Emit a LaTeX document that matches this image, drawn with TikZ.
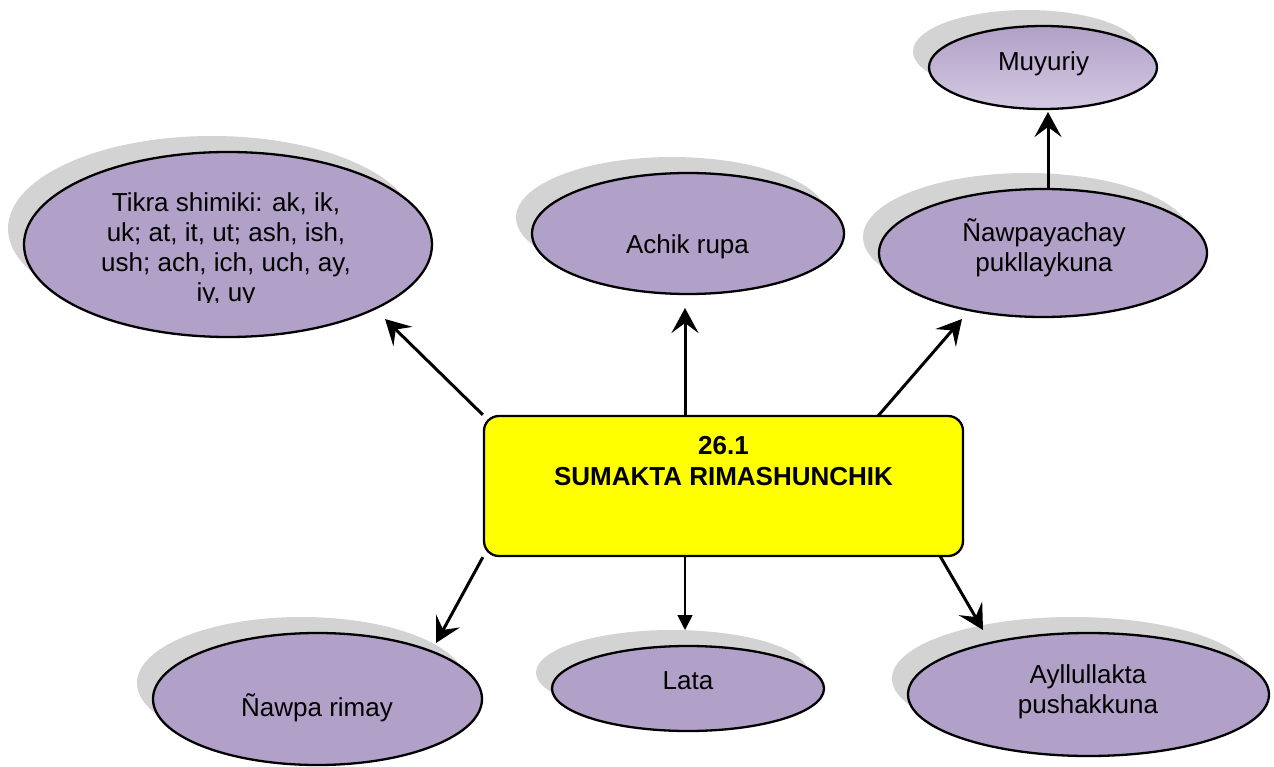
\documentclass[tikz,border=0pt]{standalone}
\usepackage{fontspec}
\setmainfont{Liberation Sans}
\usetikzlibrary{shapes.geometric,shadows,arrows.meta,calc}
\definecolor{purp}{HTML}{B1A0C7}
\definecolor{purplight}{HTML}{D4C9E2}
\definecolor{shadowgray}{HTML}{D3D3D3}
\definecolor{boxyellow}{HTML}{FFFF00}
\begin{document}
\begin{tikzpicture}[x=1pt,y=-1pt,
  bubble/.style={ellipse, draw=black, line width=2.3pt, fill=purp, inner sep=0pt,
    general shadow={fill=shadowgray, draw=none, shadow xshift=-16pt, shadow yshift=16pt}},
  lbl/.style={font=\fontsize{26}{30}\selectfont, align=center, inner sep=0pt},
  arr/.style={line width=3pt, -{Stealth[length=25pt,width=27pt,inset=10pt]}},
  thinarr/.style={line width=1.7pt, -{Triangle[length=15pt,width=15pt]}}]
\useasboundingbox (0,0) rectangle (1274,767);

% bubbles
\node[bubble, minimum width=408pt, minimum height=185pt] (tikra) at (228,244.5) {};
\node[bubble, minimum width=312pt, minimum height=121pt] (achik) at (688,233.5) {};
\node[bubble, minimum width=328pt, minimum height=128pt] (nwy) at (1043,253) {};
\node[bubble, shading=axis, top color=purp, bottom color=purplight, minimum width=228pt, minimum height=83pt] (muy) at (1043,67.5) {};
\node[bubble, minimum width=329pt, minimum height=132pt] (nrim) at (317.5,699) {};
\node[bubble, minimum width=272pt, minimum height=85pt] (lata) at (688,688.5) {};
\node[bubble, minimum width=361pt, minimum height=123pt] (ayl) at (1088.5,694.5) {};

% central box
\node[draw=black, line width=2.3pt, fill=boxyellow, rounded corners=15pt, inner sep=0pt,
      minimum width=479pt, minimum height=140pt] (box) at (723.5,486) {};

% labels
\begin{scope}
\clip (0,0) rectangle (1274,303);
\node[lbl] (tikraT) at (226,249.6) {Tikra shimiki: ak, ik,\\uk; at, it, ut; ash, ish,\\ush; ach, ich, uch, ay,\\iy, uy};
\end{scope}
\node[lbl] (achikT) at (687.5,247) {Achik rupa};
\node[lbl] (nwyT) at (1044,247.8) {Ñawpayachay\\pukllaykuna};
\node[lbl] (muyT) at (1043.5,64) {Muyuriy};
\node[lbl] (nrimT) at (317,707.5) {Ñawpa rimay};
\node[lbl] (lataT) at (688,681) {Lata};
\node[lbl] (aylT) at (1088,691.8) {Ayllullakta\\pushakkuna};
\node[lbl, font=\fontsize{26}{31}\selectfont\bfseries] (title) at (723.5,461.2) {26.1\\SUMAKTA RIMASHUNCHIK};

% arrow end points
\coordinate (tikE) at (385,319);
\coordinate (achE) at (685,308);
\coordinate (nwyS) at (878,416);
\coordinate (nwyE) at (962,319);
\coordinate (muyE) at (1048,112);
\coordinate (nrimE) at (436,643);
\coordinate (lataE) at (685,630);
\coordinate (aylS) at (940,556);
\coordinate (aylE) at (983,630);

% connectors
\draw[arr] (box.north west) -- (tikE);
\draw[arr] (box.north -| achE) -- (achE);
\draw[arr] (nwyS) -- (nwyE);
\draw[arr] (nwy.north -| muyE) -- (muyE);
\draw[arr] (box.south west) -- (nrimE);
\draw[thinarr] (box.south -| lataE) -- (lataE);
\draw[arr] (aylS) -- (aylE);
\end{tikzpicture}
\end{document}
